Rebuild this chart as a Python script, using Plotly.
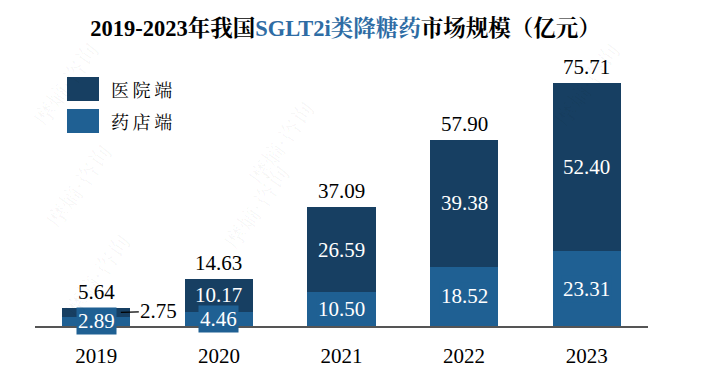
import plotly.graph_objects as go

# ---- data ----
years = ["2019", "2020", "2021", "2022", "2023"]
pharmacy = [2.89, 4.46, 10.50, 18.52, 23.31]   # 药店端
hospital = [2.75, 10.17, 26.59, 39.38, 52.40]  # 医院端
totals = [5.64, 14.63, 37.09, 57.90, 75.71]
series_names = ["医院端", "药店端"]

DARK = "#173F62"
LIGHT = "#1F6093"
SERIF = "Liberation Serif, 'Times New Roman', 'Noto Serif CJK SC', 'Noto Sans CJK SC', serif"
CJK = "'Noto Serif CJK SC', 'Noto Sans CJK SC', serif"
VAL_SIZE = 21

fig = go.Figure()
fig.add_trace(go.Bar(x=years, y=pharmacy, name=series_names[1], marker_color=LIGHT,
                     marker_line_width=0, showlegend=False))
fig.add_trace(go.Bar(x=years, y=hospital, name=series_names[0], marker_color=DARK,
                     marker_line_width=0, showlegend=False))

annotations = []
for i, yr in enumerate(years):
    p, h, t = pharmacy[i], hospital[i], totals[i]
    # pharmacy label (boxed)
    annotations.append(dict(x=i, y=p / 2, text=f"{p:.2f}", showarrow=False,
                            font=dict(family=SERIF, size=VAL_SIZE, color="white"),
                            bgcolor=LIGHT, borderpad=1))
    # hospital label
    if h < 5:
        annotations.append(dict(x=i + 0.2, y=p + h / 2, text=f"{h:.2f}", showarrow=True,
                                arrowhead=0, arrowwidth=1.2, arrowcolor="black",
                                ax=38, ay=-1, standoff=0,
                                font=dict(family=SERIF, size=VAL_SIZE, color="black")))
    else:
        annotations.append(dict(x=i, y=p + h / 2, text=f"{h:.2f}", showarrow=False,
                                font=dict(family=SERIF, size=VAL_SIZE, color="white")))
    # total
    annotations.append(dict(x=i, y=t, text=f"{t:.2f}", showarrow=False, yanchor="bottom",
                            yshift=2, font=dict(family=SERIF, size=VAL_SIZE, color="black")))

# legend (custom large swatches)
leg = [(series_names[0], DARK, 0.936, 0.846), (series_names[1], LIGHT, 0.816, 0.726)]
shapes = []
for name, col, y1, y0 in leg:
    shapes.append(dict(type="rect", xref="paper", yref="paper", x0=0.0522, x1=0.1044,
                       y0=y0, y1=y1, fillcolor=col, line_width=0))
    annotations.append(dict(xref="paper", yref="paper", x=0.1207, y=(y0 + y1) / 2,
                            xanchor="left", yanchor="middle", showarrow=False,
                            text="&#8201;".join(name),
                            font=dict(family=CJK, size=18, color="black")))

# faint watermark
for (wx, wy) in [(-0.02, 1.1), (0.97, 1.1), (0.0, 0.72), (0.36, 0.45), (0.40, 0.88), (0.03, 0.0)]:
    annotations.append(dict(xref="paper", yref="paper", x=wx, y=wy, text="摩熵·咨询",
                            showarrow=False, textangle=-55,
                            font=dict(family=CJK, size=22, color="rgba(0,0,0,0.04)")))

# page body has an 8px margin, so the figure is laid out 8px up/left of page coords
fig.update_layout(
    barmode="stack",
    bargap=0.445,
    width=725, height=379,
    margin=dict(l=27, r=85, t=52, b=61),
    plot_bgcolor="white", paper_bgcolor="white",
    title=dict(
        text="<b>2019-2023年我国<span style='color:#2E6CA4'>SGLT2i类降糖药</span>市场规模（亿元）</b>",
        x=0.4655, xref="container", xanchor="center",
        y=1 - 20 / 379, yref="container", yanchor="middle",
        font=dict(family=SERIF, size=22.5, color="black"),
    ),
    xaxis=dict(type="category", showline=True, linecolor="#555555", linewidth=1.5,
               ticks="outside", ticklen=10, tickcolor="rgba(0,0,0,0)",
               tickfont=dict(family=SERIF, size=21, color="black"), showgrid=False),
    yaxis=dict(range=[0, 82.87], visible=False, showgrid=False),
    annotations=annotations,
    shapes=shapes,
)

fig.write_html("out.html")
